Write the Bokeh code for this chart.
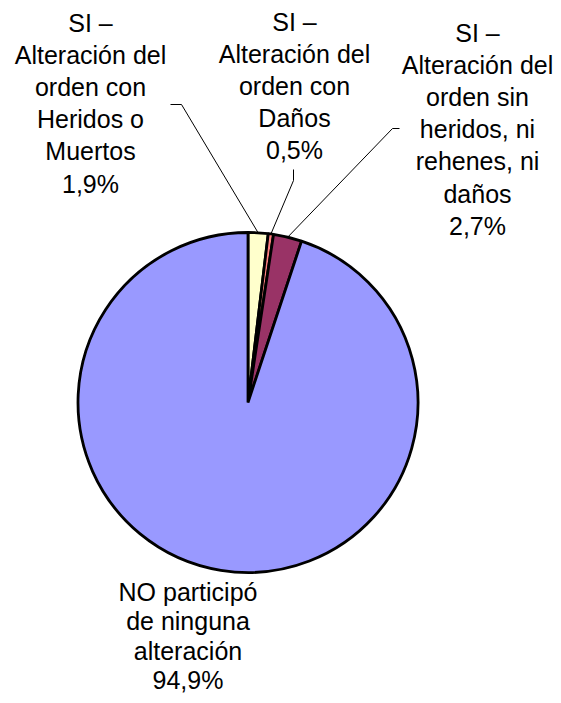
import math
from bokeh.plotting import figure
from bokeh.models import ColumnDataSource
from bokeh.core.properties import value
from bokeh.embed import file_html
from bokeh.resources import INLINE

# ---- data ----
categories = [
    ["SI –", "Alteración del", "orden con", "Heridos o", "Muertos"],
    ["SI –", "Alteración del", "orden con", "Daños"],
    ["SI –", "Alteración del", "orden sin", "heridos, ni", "rehenes, ni", "daños"],
    ["NO participó", "de ninguna", "alteración"],
]
values = [1.9, 0.5, 2.7, 94.9]
colors = ["#FFFFCC", "#FF8080", "#993366", "#9999FF"]

# ---- layout (picture pixel coordinates) ----
W, H = 553, 695
def Y(py):
    return H - py

cx, cy, R = 247.5, Y(402), 170
FONT = "Liberation Sans"
FSIZE = "25px"
label_anchor = [(90, 22), (294, 21), (477, 32), (187.5, 591)]
label_lh = [32.2, 32.2, 32.2, 29.6]
leader_start = [
    [(170, 104), (181, 104)],
    [(293, 169), (293, 180)],
    [(399, 128), (392, 128)],
    None,
]

p = figure(width=W, height=H, x_range=(0, W), y_range=(0, H),
           output_backend="svg", toolbar_location=None, min_border=0)
p.axis.visible = False
p.grid.visible = False
p.outline_line_color = None
p.background_fill_color = "white"

total = sum(values)
starts, ends, mids = [], [], []
cum = 0.0
for v in values:
    a0 = math.pi / 2 - 2 * math.pi * cum / total
    cum += v
    a1 = math.pi / 2 - 2 * math.pi * cum / total
    starts.append(a0)
    ends.append(a1)
    mids.append((a0 + a1) / 2)

src = ColumnDataSource(dict(start=starts, end=ends, color=colors))
p.wedge(x=cx, y=cy, radius=R, start_angle="start", end_angle="end",
        direction="clock", fill_color="color", line_color="black",
        line_width=2.8, source=src)

# leader lines
for i, pts in enumerate(leader_start):
    if pts is None:
        continue
    ex = cx + R * math.cos(mids[i])
    ey = cy + R * math.sin(mids[i])
    xs = [pts[0][0], pts[1][0], ex]
    ys = [Y(pts[0][1]), Y(pts[1][1]), ey]
    p.line(xs, ys, line_color="black", line_width=1)

# labels
tx, ty, tt = [], [], []
for i, lines in enumerate(categories):
    pct = f"{values[i]:.1f}".replace(".", ",") + "%"
    all_lines = lines + [pct]
    ax, ay = label_anchor[i]
    for j, s in enumerate(all_lines):
        tx.append(ax)
        ty.append(Y(ay + j * label_lh[i]))
        tt.append(s)
p.text(x=tx, y=ty, text=tt, text_font=value(FONT), text_font_size=FSIZE,
       text_align="center", text_baseline="alphabetic", text_color="black")

open("out.html", "w").write(file_html(p, INLINE))
